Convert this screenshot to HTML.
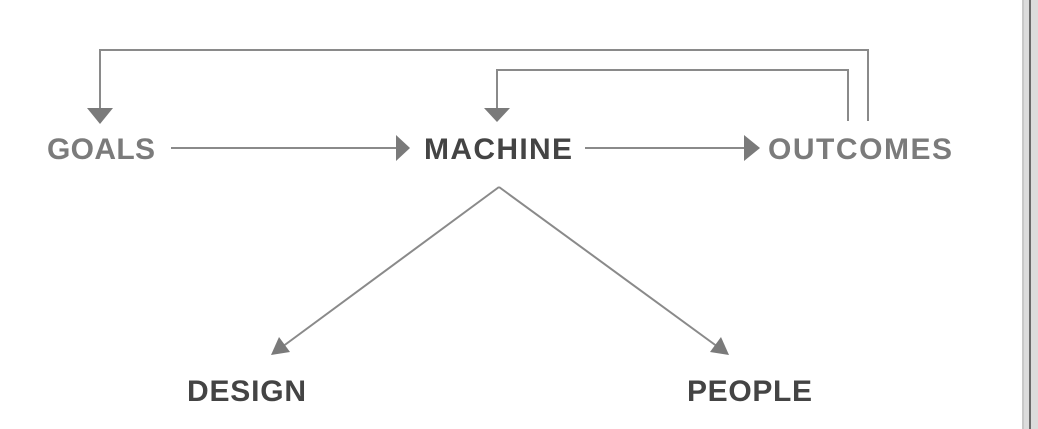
<!DOCTYPE html>
<html><head><style>
html,body{margin:0;padding:0;background:#fff;}
body{width:1038px;height:429px;position:relative;overflow:hidden;font-family:"Liberation Sans",sans-serif;}
</style></head><body>
<svg width="1038" height="429" viewBox="0 0 1038 429" style="position:absolute;left:0;top:0">
<rect x="1022" y="0" width="16" height="429" fill="#dcdcdc"/>
<rect x="1022" y="0" width="2" height="429" fill="#c8c8c8"/>
<rect x="1029" y="0" width="2" height="429" fill="#6a6a6a"/>
<g stroke="#8a8a8a" stroke-width="2" fill="none">
<polyline points="868,121 868,50 100,50 100,110"/>
<polyline points="848,121 848,70 497,70 497,110"/>
<line x1="171" y1="148" x2="398" y2="148"/>
<line x1="585" y1="148" x2="748" y2="148"/>
<line x1="499" y1="187" x2="282" y2="347"/>
<line x1="499" y1="187" x2="718" y2="347"/>
</g>
<g fill="#7a7a7a">
<polygon points="87,108 113,108 100,124"/>
<polygon points="484,108 510,108 497,122"/>
<polygon points="396,135 396,161 410,148"/>
<polygon points="744,135 744,161 760,148"/>
<polygon points="271,355 290,352 279,337"/>
<polygon points="729,355 710,352 721,337"/>
</g>
<g font-family="Liberation Sans, sans-serif" font-weight="bold" font-size="30">
<text x="47" y="159" fill="#7b7b7b" textLength="108">GOALS</text>
<text x="424" y="159" fill="#444" textLength="148">MACHINE</text>
<text x="768" y="159" fill="#7b7b7b" textLength="184">OUTCOMES</text>
<text x="187" y="401" fill="#444" textLength="119">DESIGN</text>
<text x="687" y="401" fill="#444" textLength="125">PEOPLE</text>
</g>
</svg>
</body></html>
